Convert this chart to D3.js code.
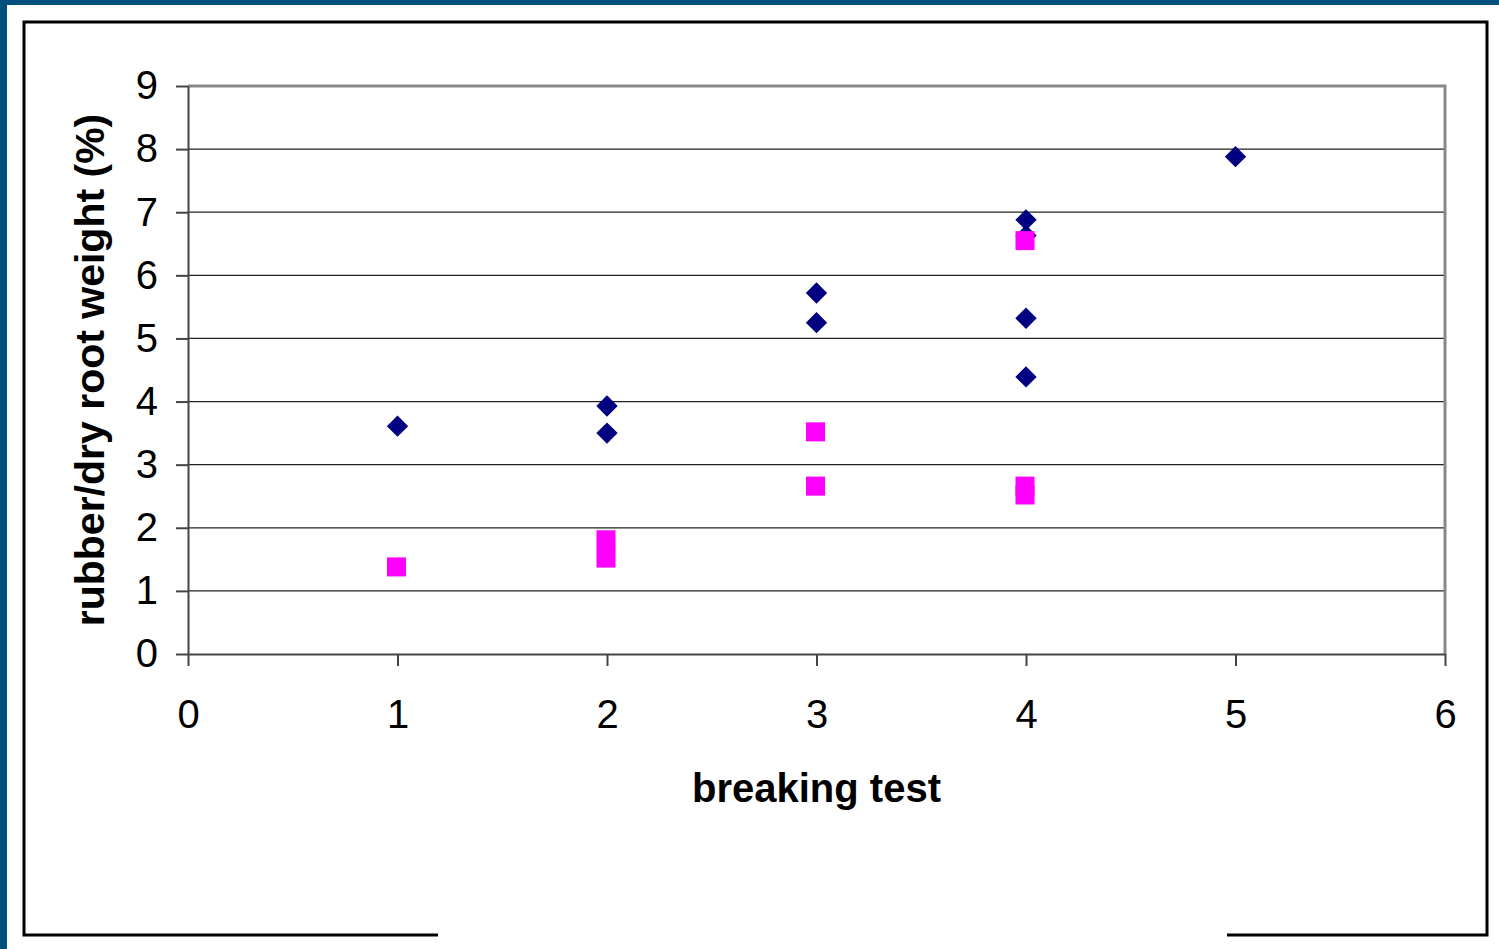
<!DOCTYPE html>
<html>
<head>
<meta charset="utf-8">
<script src="https://cdn.jsdelivr.net/npm/d3@7"></script>
<style>
  html, body { margin: 0; padding: 0; background: #fff; }
  svg { display: block; }
  text { font-family: "Liberation Sans", Arial, sans-serif; fill: #000; }
</style>
</head>
<body>
<svg id="chart" width="1499" height="949"></svg>
<script>
// Breaking test score vs. rubber content
const diamondX = [1, 2, 2, 3, 3, 4, 4, 4, 4, 5];
const diamondY = [3.61, 3.93, 3.50, 5.72, 5.25, 6.88, 6.63, 5.32, 4.39, 7.88];
const squareX  = [1, 2, 2, 3, 3, 4, 4, 4];
const squareY  = [1.38, 1.81, 1.52, 3.52, 2.66, 6.55, 2.66, 2.52];
const xTicks = [0, 1, 2, 3, 4, 5, 6];
const yTicks = [0, 1, 2, 3, 4, 5, 6, 7, 8, 9];
const xTitle = "breaking test";
const yTitle = "rubber/dry root weight (%)";

const svg = d3.select("#chart");

// slide border bands
svg.append("rect").attr("x", 0).attr("y", 0).attr("width", 1499).attr("height", 5).attr("fill", "#02507e");
svg.append("rect").attr("x", 0).attr("y", 0).attr("width", 7).attr("height", 949).attr("fill", "#02507e");

// outer chart frame, bottom edge open in the middle
svg.append("path")
  .attr("d", "M438,935 L24,935 L24,22 L1487,22 L1487,935 L1227,935")
  .attr("fill", "none").attr("stroke", "#000").attr("stroke-width", 3);

const plot = { left: 188, right: 1445, top: 86, bottom: 654 };
const x = d3.scaleLinear().domain([0, 6]).range([plot.left, plot.right]);
const y = d3.scaleLinear().domain([0, 9]).range([plot.bottom, plot.top]);

// gridlines
svg.append("g").selectAll("line").data(yTicks.filter(v => v > 0 && v < 9)).join("line")
  .attr("x1", plot.left).attr("x2", plot.right)
  .attr("y1", d => y(d)).attr("y2", d => y(d))
  .attr("stroke", "#222").attr("stroke-width", 1.3);

// plot area border: top and right
svg.append("path")
  .attr("d", `M${plot.left},${y(9)} L${plot.right},${y(9)} L${plot.right},${plot.bottom}`)
  .attr("fill", "none").attr("stroke", "#888").attr("stroke-width", 3);

// axes
const xAxis = d3.axisBottom(x).tickValues(xTicks).tickSize(12).tickSizeOuter(0).tickPadding(54).tickFormat(d3.format("d"));
const yAxis = d3.axisLeft(y).tickValues(yTicks).tickSize(12).tickSizeOuter(0).tickPadding(18).tickFormat(d3.format("d"));

const gx = svg.append("g").attr("transform", `translate(0,${plot.bottom})`).call(xAxis);
const gy = svg.append("g").attr("transform", `translate(${plot.left},0)`).call(yAxis);
[gx, gy].forEach(g => {
  g.select(".domain").attr("stroke", "#444").attr("stroke-width", 2);
  g.selectAll(".tick line").attr("stroke", "#444").attr("stroke-width", 2);
  g.selectAll(".tick text").attr("font-size", 40).attr("font-family", "Liberation Sans, Arial, sans-serif").attr("fill", "#000");
});
gx.selectAll(".tick text").attr("dy", "0.2em");

// axis titles
svg.append("text")
  .attr("x", (plot.left + plot.right) / 2).attr("y", 802)
  .attr("text-anchor", "middle").attr("font-size", 40).attr("font-weight", "bold")
  .text(xTitle);
svg.append("text")
  .attr("transform", "translate(104,370) rotate(-90)")
  .attr("text-anchor", "middle").attr("font-size", 41).attr("font-weight", "bold")
  .text(yTitle);

// series 1: navy diamonds
const diamond = d3.symbol().type(d3.symbolDiamond2).size(290);
svg.append("g").selectAll("path").data(diamondX.map((v, i) => [v, diamondY[i]])).join("path")
  .attr("d", diamond)
  .attr("transform", d => `translate(${x(d[0])},${y(d[1])})`)
  .attr("fill", "#000080");

// series 2: magenta squares
const sq = 19;
svg.append("g").selectAll("rect").data(squareX.map((v, i) => [v, squareY[i]])).join("rect")
  .attr("x", d => x(d[0]) - sq / 2 - 1).attr("y", d => y(d[1]) - sq / 2)
  .attr("width", sq).attr("height", sq)
  .attr("fill", "#ff00ff");
</script>
</body>
</html>
